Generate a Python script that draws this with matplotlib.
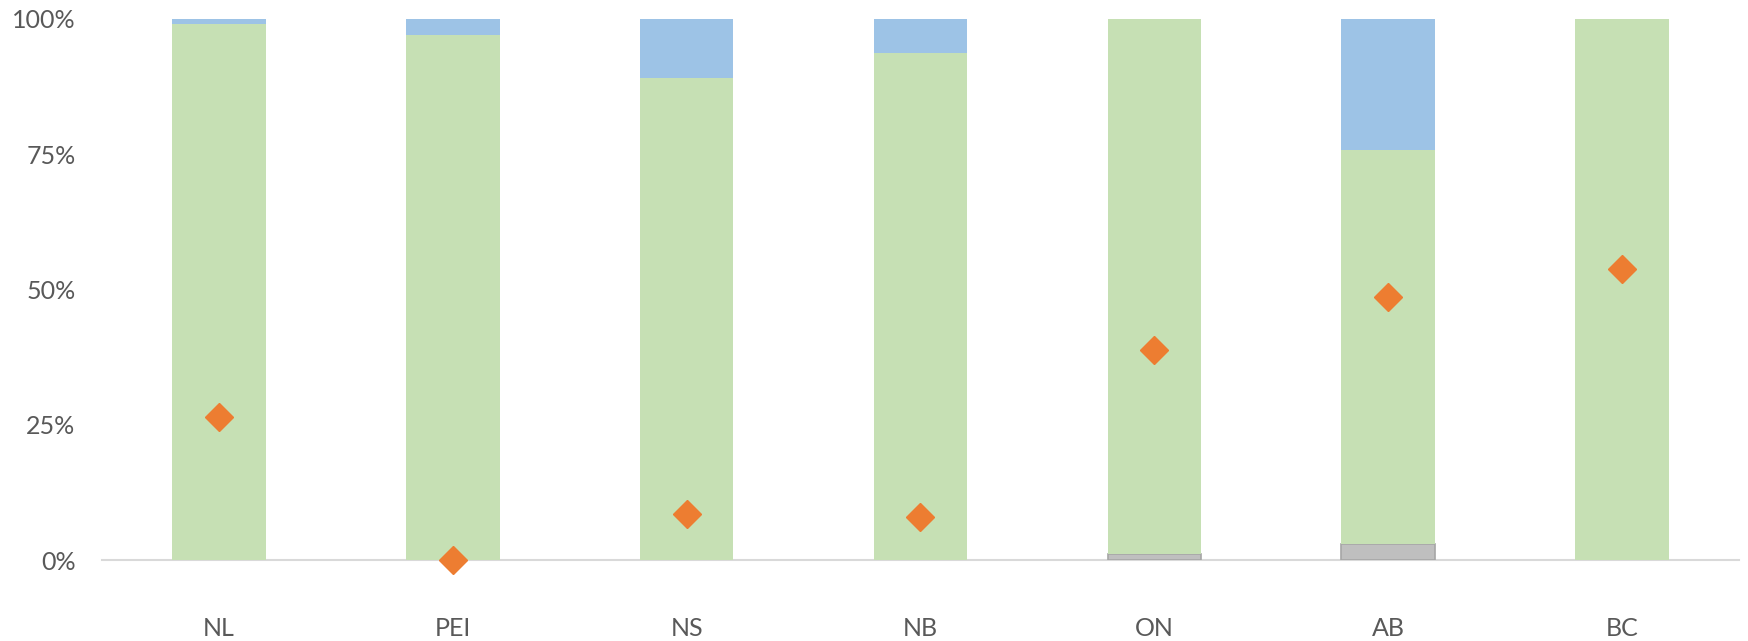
import matplotlib
matplotlib.use("Agg")
import matplotlib.pyplot as plt
import numpy as np

categories = ["NL", "PEI", "NS", "NB", "ON", "AB", "BC"]
gray_vals = [0.0, 0.0, 0.0, 0.0, 1.1, 3.0, 0.0]
green_vals = [99.0, 97.1, 89.1, 93.8, 98.9, 72.8, 100.0]
blue_vals = [1.0, 2.9, 10.9, 6.2, 0.0, 24.2, 0.0]
diamond_vals = [26.4, 0.0, 8.5, 8.0, 38.8, 48.7, 53.8]
yticks = [0, 25, 50, 75, 100]
ytick_labels = ["0%", "25%", "50%", "75%", "100%"]

plt.rcParams['font.family'] = ['Lato', 'DejaVu Sans']

fig = plt.figure(figsize=(17.49, 6.41), dpi=100)
ax = fig.add_axes([102/1749, 81/641, 1637/1749, 541/641])

x = np.arange(len(categories))
w = 0.4
g = np.array(gray_vals)
gr = np.array(green_vals)
b = np.array(blue_vals)
ax.bar(x, g, w, color="#BFBFBF", edgecolor="#A6A6A6", linewidth=1.2, zorder=2)
ax.bar(x, gr, w, bottom=g, color="#C6E0B4", edgecolor="none", zorder=2)
ax.bar(x, b, w, bottom=g + gr, color="#9DC3E6", edgecolor="none", zorder=2)
ax.plot(x, diamond_vals, linestyle="none", marker="D", markersize=14,
        color="#ED7D31", zorder=3, clip_on=False)

ax.set_xlim(-0.5, len(categories) - 0.5)
ax.set_ylim(0, 100)
ax.set_yticks(yticks)
ax.set_yticklabels(ytick_labels)
ax.set_xticks(x)
ax.set_xticklabels(categories)
ax.tick_params(axis="both", length=0, labelsize=18, colors="#595959")
ax.tick_params(axis="x", pad=41)
ax.tick_params(axis="y", pad=19)
for s in ["top", "right", "left"]:
    ax.spines[s].set_visible(False)
ax.spines["bottom"].set_color("#D9D9D9")
ax.spines["bottom"].set_linewidth(1.5)
ax.spines["bottom"].set_zorder(1)

fig.savefig("out.png", dpi=100)
